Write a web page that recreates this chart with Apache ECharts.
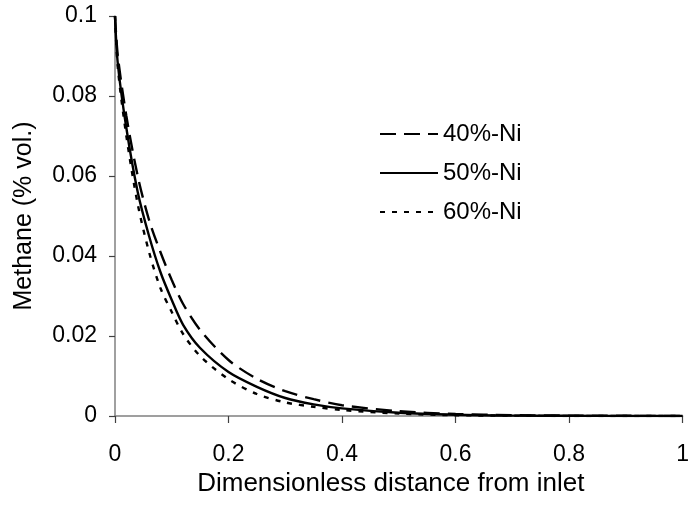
<!DOCTYPE html>
<html>
<head>
<meta charset="utf-8">
<script src="https://cdn.jsdelivr.net/npm/echarts@6/dist/echarts.min.js"></script>
<style>
html, body { margin: 0; padding: 0; background: #fff; }
#chart { width: 692px; height: 510px; }
</style>
</head>
<body>
<div id="chart"></div>
<script>
// dimensionless distance from inlet
const distance = [0, 0.005, 0.02, 0.04, 0.06, 0.08, 0.1, 0.12, 0.15, 0.2, 0.25, 0.3, 0.35, 0.4, 0.5, 0.6, 0.7, 0.8, 0.9, 1.0];
// methane (% vol.)
const ni40 = [0.1, 0.09, 0.075, 0.060, 0.049, 0.041, 0.034, 0.028, 0.0215, 0.014, 0.0093, 0.0062, 0.0042, 0.0027, 0.0012, 0.0005, 0.0002, 0.0001, 0.00005, 0];
const ni50 = [0.1, 0.088, 0.072, 0.056, 0.045, 0.036, 0.029, 0.0228, 0.017, 0.011, 0.0073, 0.0045, 0.0029, 0.0019, 0.0008, 0.0003, 0.0001, 0.00005, 0, 0];
const ni60 = [0.1, 0.087, 0.070, 0.053, 0.041, 0.032, 0.026, 0.0205, 0.015, 0.0092, 0.0055, 0.0034, 0.0023, 0.0015, 0.0006, 0.0002, 0.0001, 0, 0, 0];
const seriesNames = ['40%-Ni', '50%-Ni', '60%-Ni'];

const font = 'Liberation Sans, Arial, sans-serif';

function pairs(ys) {
    return distance.map((x, i) => [x, ys[i]]);
}

const chart = echarts.init(document.getElementById('chart'));

const option = {
    animation: false,
    backgroundColor: '#fff',
    grid: { left: 115, right: 1, top: 16, bottom: 94 },
    legend: {
        orient: 'vertical',
        left: 374,
        top: 117,
        itemWidth: 58,
        itemHeight: 14,
        itemGap: 15,
        data: seriesNames,
        // hide the circle marker, keep only the line sample
        itemStyle: { color: 'rgba(0,0,0,0)', borderWidth: 0, opacity: 0 },
        textStyle: { fontFamily: font, fontSize: 24, color: '#000' }
    },
    xAxis: {
        type: 'value',
        min: 0,
        max: 1,
        interval: 0.2,
        name: 'Dimensionless distance from inlet',
        nameLocation: 'middle',
        nameGap: 55,
        nameTextStyle: { fontFamily: font, fontSize: 26, color: '#000', padding: [0, 16, 0, 0] },
        axisLine: { show: true, onZero: false, lineStyle: { color: '#808080', width: 1.5 } },
        axisTick: { show: true, length: 7, lineStyle: { color: '#404040', width: 1.2 } },
        axisLabel: { fontFamily: font, fontSize: 23, color: '#000', margin: 27 },
        splitLine: { show: false }
    },
    yAxis: {
        type: 'value',
        min: 0,
        max: 0.1,
        interval: 0.02,
        name: 'Methane (% vol.)',
        nameLocation: 'middle',
        nameGap: 78,
        nameTextStyle: { fontFamily: font, fontSize: 25, color: '#000' },
        axisLine: { show: true, lineStyle: { color: '#808080', width: 1.5 } },
        axisTick: { show: true, length: 6, lineStyle: { color: '#404040', width: 1.2 } },
        axisLabel: { fontFamily: font, fontSize: 23, color: '#000', margin: 18 },
        splitLine: { show: false }
    },
    series: [
        {
            name: seriesNames[0],
            type: 'line',
            data: pairs(ni40),
            smooth: 0.3,
            symbol: 'none',
            lineStyle: { color: '#000', width: 2.4, type: [16, 8] },
            itemStyle: { color: '#000' }
        },
        {
            name: seriesNames[1],
            type: 'line',
            data: pairs(ni50),
            smooth: 0.3,
            symbol: 'none',
            lineStyle: { color: '#000', width: 2.4, type: 'solid' },
            itemStyle: { color: '#000' }
        },
        {
            name: seriesNames[2],
            type: 'line',
            data: pairs(ni60),
            smooth: 0.3,
            symbol: 'none',
            lineStyle: { color: '#000', width: 2.4, type: [5, 7] },
            itemStyle: { color: '#000' }
        }
    ]
};

chart.setOption(option);
</script>
</body>
</html>
